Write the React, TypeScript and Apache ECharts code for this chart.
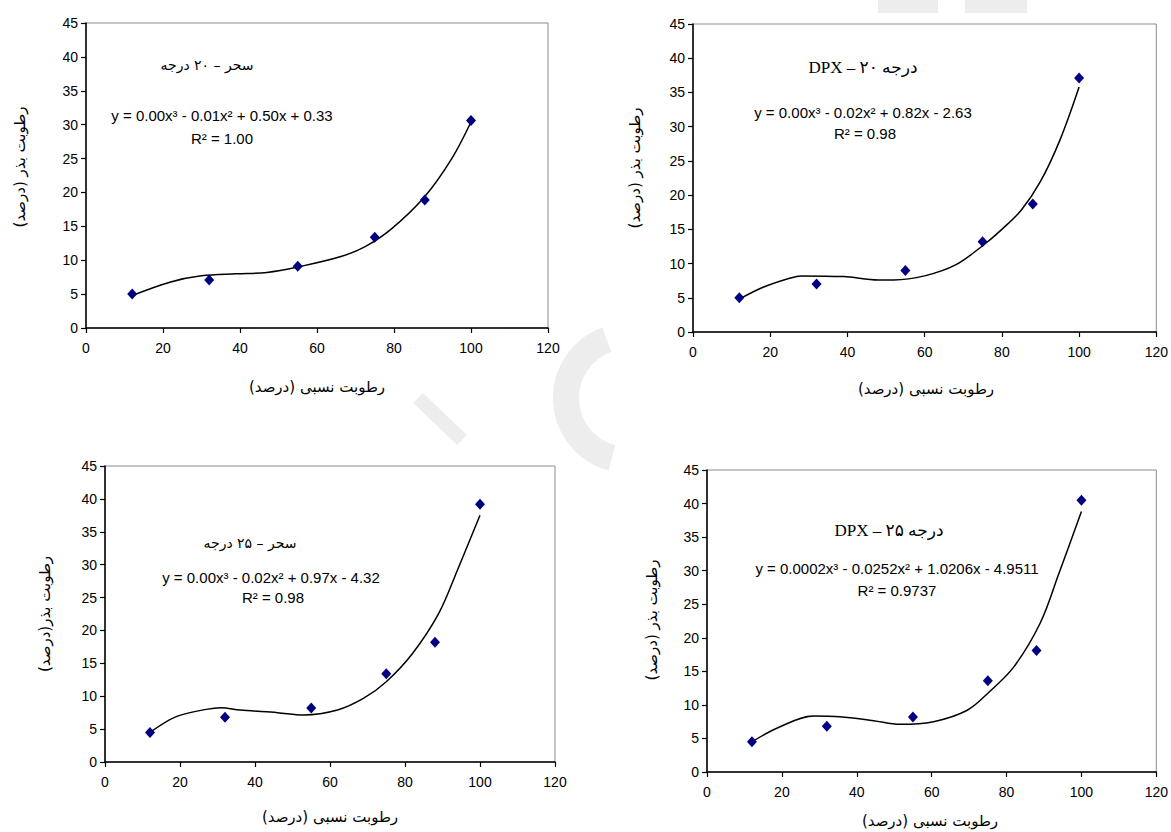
import React, { useEffect, useRef } from "react";
import * as echarts from "echarts";

// Relative humidity (x) of the observed points
const humidity = [12, 32, 55, 75, 88, 100];

// Seed moisture (%) observed
const sahar20 = [5.0, 7.1, 9.1, 13.4, 18.9, 30.6];
const dpx20 = [5.0, 7.0, 9.0, 13.2, 18.7, 37.1];
const sahar25 = [4.5, 6.8, 8.2, 13.4, 18.2, 39.2];
const dpx25 = [4.5, 6.8, 8.2, 13.6, 18.1, 40.5];

// Polynomial trend lines
const trend1X = [12, 22, 30, 39, 47, 55, 66, 72.5, 79.5, 88, 95, 100];
const trend1Y = [4.8, 6.8, 7.7, 8.0, 8.2, 9.0, 10.5, 12.0, 14.7, 19.4, 25.0, 30.4];
const trend2X = [12, 18, 25, 28, 39, 48, 52, 60, 68, 75, 80, 85, 90, 95, 100];
const trend2Y = [4.8, 6.5, 7.85, 8.2, 8.1, 7.6, 7.6, 8.2, 9.8, 12.6, 15.0, 17.8, 22.0, 28.0, 35.8];
const trend3X = [12, 19, 27, 31, 36, 46, 53, 62, 69, 75, 82, 89, 94, 100];
const trend3Y = [4.5, 6.9, 8.0, 8.25, 7.9, 7.5, 7.15, 7.9, 9.7, 12.2, 16.5, 22.6, 29.2, 37.5];
const trend4X = [12, 19.5, 28.5, 35.5, 44.5, 51.5, 60.5, 69.5, 75.5, 82, 89, 94, 100];
const trend4Y = [4.5, 6.75, 8.35, 8.25, 7.65, 7.1, 7.5, 9.2, 12.0, 15.7, 22.2, 29.6, 38.8];

// Texts
const titles = ["سحر – ۲۰ درجه", "DPX – ۲۰ درجه", "سحر – ۲۵ درجه", "DPX – ۲۵ درجه"];
const equations = [
  "y = 0.00x³ - 0.01x² + 0.50x + 0.33",
  "y = 0.00x³ - 0.02x² + 0.82x - 2.63",
  "y = 0.00x³ - 0.02x² + 0.97x - 4.32",
  "y = 0.0002x³ - 0.0252x² + 1.0206x - 4.9511",
];
const rSquared = ["R² = 1.00", "R² = 0.98", "R² = 0.98", "R² = 0.9737"];
const yTitles = ["رطوبت بذر (درصد)", "رطوبت بذر (درصد)", "رطوبت بذر(درصد)", "رطوبت بذر (درصد)"];
const xTitle = "رطوبت نسبی (درصد)";

const X_MIN = 0, X_MAX = 120, X_STEP = 20;
const Y_MIN = 0, Y_MAX = 45, Y_STEP = 5;

// Layout (pixels)
const grids = [
  { left: 86, top: 23, width: 462, height: 305 },
  { left: 693, top: 24, width: 465, height: 308 },
  { left: 105, top: 466, width: 450, height: 296 },
  { left: 707, top: 470, width: 450, height: 302 },
];
const titlePos = [[207, 65], [863, 67], [250, 543], [889, 530]];
const eqPos = [[222, 115], [863, 112], [271, 577], [897, 568]];
const r2Pos = [[222, 138], [865, 133], [273, 597], [897, 590]];
const yTitlePos = [[20, 167], [635, 168], [45, 614], [652, 620]];
const xTitlePos = [[317, 387], [926, 389], [330, 817], [930, 821]];

const NUM_FONT = "'Liberation Sans', Arial, sans-serif";
const FA_FONT = "'DejaVu Sans', sans-serif";
const TITLE_FONT = "'Liberation Serif', 'DejaVu Sans', serif";
const WATERMARK = "#ededed";

const pairs = (xs: number[], ys: number[]) => xs.map((x, i) => [x, ys[i]]);

export default function App() {
  const ref = useRef<HTMLDivElement>(null);
  useEffect(() => {
    if (!ref.current) return;
    const chart = echarts.init(ref.current, undefined, { renderer: "svg" });
    const observed = [sahar20, dpx20, sahar25, dpx25];
    const trends = [
      pairs(trend1X, trend1Y),
      pairs(trend2X, trend2Y),
      pairs(trend3X, trend3Y),
      pairs(trend4X, trend4Y),
    ];

    const series: any[] = [];
    observed.forEach((ys, i) => {
      series.push({
        type: "line",
        xAxisIndex: i,
        yAxisIndex: i,
        data: trends[i],
        smooth: 0.35,
        showSymbol: false,
        lineStyle: { color: "#000", width: 1.5 },
        z: 2,
      });
      series.push({
        type: "scatter",
        xAxisIndex: i,
        yAxisIndex: i,
        data: pairs(humidity, ys),
        symbol: "diamond",
        symbolSize: [10, 11],
        itemStyle: { color: "#000080", opacity: 1 },
        z: 3,
      });
    });

    const graphic: any[] = [
      // faint watermark shapes of the source page
      {
        type: "arc",
        z: -10,
        shape: { cx: 628, cy: 398, r: 62, startAngle: (105 * Math.PI) / 180, endAngle: (250 * Math.PI) / 180 },
        style: { stroke: WATERMARK, lineWidth: 26, fill: null },
        silent: true,
      },
      {
        type: "line",
        z: -10,
        shape: { x1: 418, y1: 398, x2: 462, y2: 440 },
        style: { stroke: WATERMARK, lineWidth: 14 },
        silent: true,
      },
      { type: "rect", z: -10, shape: { x: 878, y: 0, width: 60, height: 13 }, style: { fill: WATERMARK }, silent: true },
      { type: "rect", z: -10, shape: { x: 965, y: 0, width: 62, height: 13 }, style: { fill: WATERMARK }, silent: true },
    ];
    for (let i = 0; i < 4; i++) {
      graphic.push({
        type: "text",
        x: titlePos[i][0],
        y: titlePos[i][1],
        style: {
          text: titles[i],
          font: `${i % 2 === 1 ? 17 : 14}px ${i % 2 === 1 ? TITLE_FONT : FA_FONT}`,
          fill: "#000",
          align: "center",
          verticalAlign: "middle",
        },
      });
      graphic.push({
        type: "text",
        x: eqPos[i][0],
        y: eqPos[i][1],
        style: {
          text: equations[i],
          font: `15px ${NUM_FONT}`,
          fill: "#000",
          align: "center",
          verticalAlign: "middle",
        },
      });
      graphic.push({
        type: "text",
        x: r2Pos[i][0],
        y: r2Pos[i][1],
        style: {
          text: rSquared[i],
          font: `15px ${NUM_FONT}`,
          fill: "#000",
          align: "center",
          verticalAlign: "middle",
        },
      });
      graphic.push({
        type: "text",
        x: yTitlePos[i][0],
        y: yTitlePos[i][1],
        rotation: Math.PI / 2,
        style: {
          text: "\u200F" + yTitles[i] + "\u200F",
          font: `15px ${FA_FONT}`,
          fill: "#000",
          align: "center",
          verticalAlign: "middle",
        },
      });
      graphic.push({
        type: "text",
        x: xTitlePos[i][0],
        y: xTitlePos[i][1],
        style: {
          text: "\u200F" + xTitle + "\u200F",
          font: `15px ${FA_FONT}`,
          fill: "#000",
          align: "center",
          verticalAlign: "middle",
        },
      });
    }

    chart.setOption({
      animation: false,
      backgroundColor: "#fff",
      grid: grids.map((g) => ({
        ...g,
        show: true,
        borderColor: "#8c8c8c",
        borderWidth: 1,
        backgroundColor: "transparent",
        containLabel: false,
      })),
      xAxis: grids.map((_, i) => ({
        type: "value",
        gridIndex: i,
        min: X_MIN,
        max: X_MAX,
        interval: X_STEP,
        axisLine: { show: true, onZero: false, lineStyle: { color: "#000", width: 1.5 } },
        axisTick: { show: true, inside: false, length: 5, lineStyle: { color: "#000", width: 1.2 } },
        axisLabel: { color: "#000", fontSize: 14, fontFamily: NUM_FONT, margin: 13 },
        splitLine: { show: false },
      })),
      yAxis: grids.map((_, i) => ({
        type: "value",
        gridIndex: i,
        min: Y_MIN,
        max: Y_MAX,
        interval: Y_STEP,
        axisLine: { show: true, onZero: false, lineStyle: { color: "#000", width: 1.5 } },
        axisTick: { show: true, inside: false, length: 5, lineStyle: { color: "#000", width: 1.2 } },
        axisLabel: { color: "#000", fontSize: 14, fontFamily: NUM_FONT, margin: 8 },
        splitLine: { show: false },
      })),
      series,
      graphic,
    });
    return () => chart.dispose();
  }, []);

  return (
    <div
      ref={ref}
      style={{ position: "absolute", left: 0, top: 0, width: 1171, height: 832, background: "#fff" }}
    />
  );
}
